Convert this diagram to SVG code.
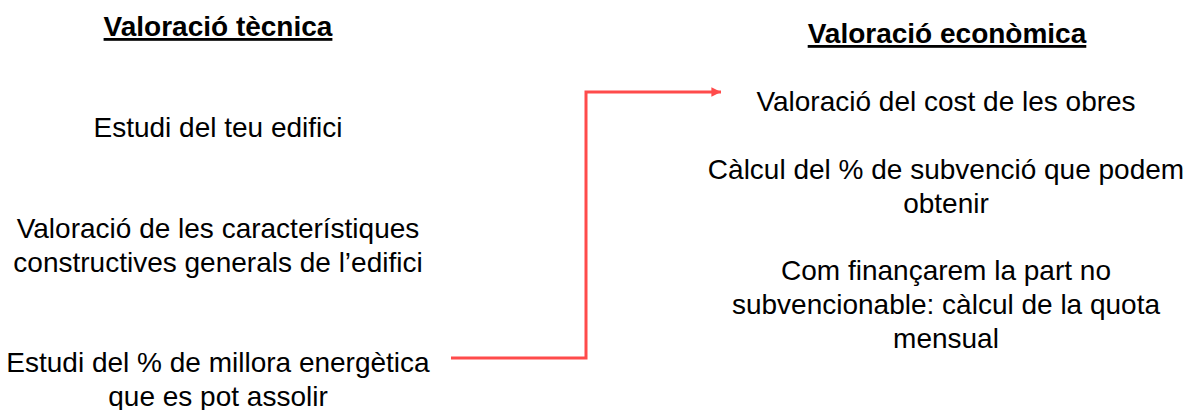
<svg xmlns="http://www.w3.org/2000/svg" width="1201" height="410" viewBox="0 0 1201 410">
<style>
text{font-family:"Liberation Sans",Arial,sans-serif;font-size:28px;fill:#000;text-anchor:middle}
.t{font-weight:bold;text-decoration:underline}
.c{fill:none;stroke:#ff4b4b;stroke-width:3}
</style>
<defs>
<marker id="ah" viewBox="0 0 10 10" refX="10" refY="5" markerWidth="3.2" markerHeight="3.2" orient="auto" markerUnits="strokeWidth">
<path d="M0,0L10,5L0,10z" fill="#ff4b4b"/>
</marker>
</defs>
<rect width="1201" height="410" fill="#fff"/>
<g id="title-tecnica"><text class="t" x="218" y="36">Valoració tècnica</text></g>
<g id="title-economica"><text class="t" x="947" y="43">Valoració econòmica</text></g>
<g id="estudi-edifici"><text x="218" y="137">Estudi del teu edifici</text></g>
<g id="caracteristiques"><text x="218" y="238">Valoració de les característiques</text><text x="218" y="272">constructives generals de l’edifici</text></g>
<g id="millora"><text x="218" y="372">Estudi del % de millora energètica</text><text x="218" y="406">que es pot assolir</text></g>
<g id="cost"><text x="946" y="111">Valoració del cost de les obres</text></g>
<g id="subvencio"><text x="946" y="179">Càlcul del % de subvenció que podem</text><text x="946" y="213">obtenir</text></g>
<g id="financament"><text x="946" y="280">Com finançarem la part no</text><text x="946" y="314">subvencionable: càlcul de la quota</text><text x="946" y="348">mensual</text></g>
<g id="connectors"><path class="c" d="M451,358H586V92H721" marker-end="url(#ah)"/></g>
</svg>
